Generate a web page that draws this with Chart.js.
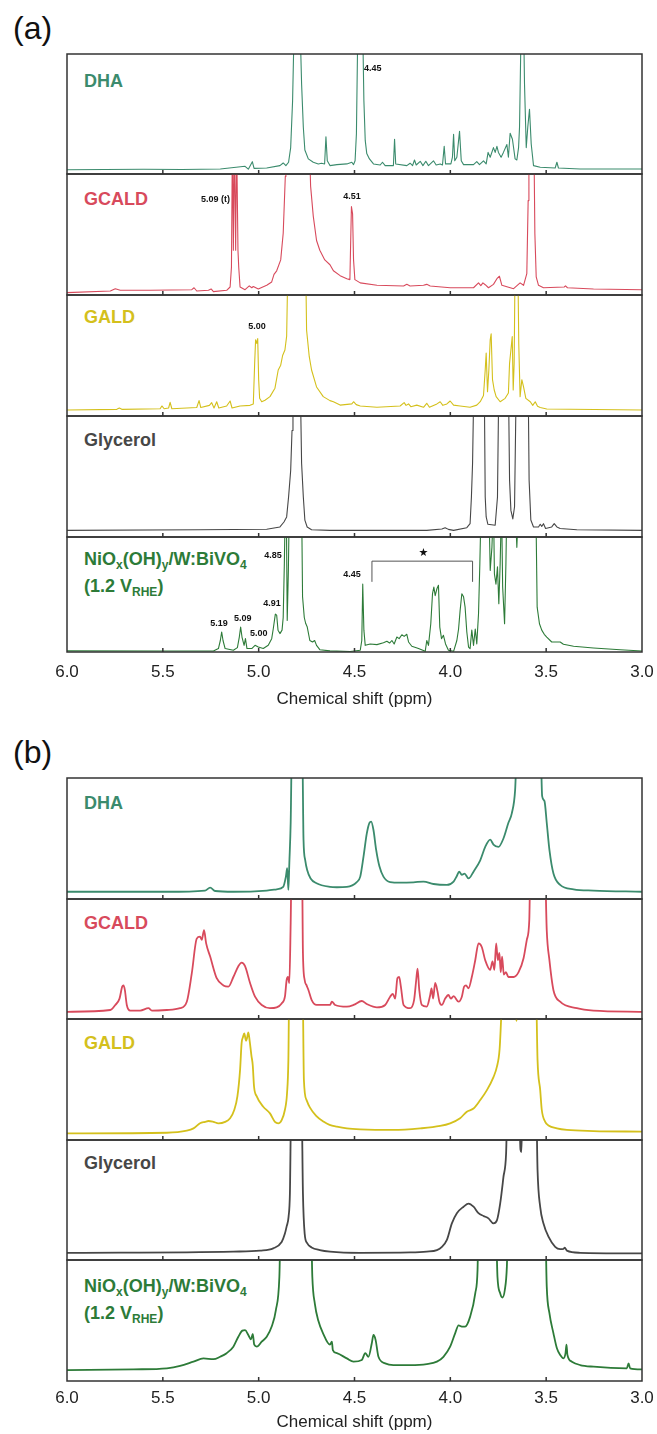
<!DOCTYPE html>
<html>
<head>
<meta charset="utf-8">
<title>1H NMR spectra</title>
<script src="https://cdn.jsdelivr.net/npm/chart.js@4.4.0/dist/chart.umd.min.js"></script>
<style>
  body { margin: 0; background: #fff; }
  #page { position: relative; width: 657px; height: 1434px; font-family: Arial, "Liberation Sans", Helvetica, sans-serif; }
  #page canvas { position: absolute; left: 0; }
  .tag { position: absolute; left: 13px; font-size: 32px; line-height: 32px; color: #111; }
  .name { position: absolute; left: 84px; font-size: 18px; font-weight: bold; line-height: 27px; white-space: nowrap; }
  .name sub { font-size: 12px; line-height: 0; vertical-align: -4px; }
</style>
</head>
<body>
<div id="page">
  <div class="tag" style="top:12px">(a)</div>
  <div class="tag" style="top:736px">(b)</div>

  <div class="name" style="top:68px;color:#3b8b6d">DHA</div>
  <div class="name" style="top:186px;color:#d84a5c">GCALD</div>
  <div class="name" style="top:304px;color:#d4c01c">GALD</div>
  <div class="name" style="top:427px;color:#474747">Glycerol</div>
  <div class="name" style="top:546px;color:#2d7b38">NiO<sub>x</sub>(OH)<sub>y</sub>/W:BiVO<sub>4</sub><br>(1.2 V<sub>RHE</sub>)</div>

  <div class="name" style="top:790px;color:#3b8b6d">DHA</div>
  <div class="name" style="top:910px;color:#d84a5c">GCALD</div>
  <div class="name" style="top:1030px;color:#d4c01c">GALD</div>
  <div class="name" style="top:1150px;color:#474747">Glycerol</div>
  <div class="name" style="top:1273px;color:#2d7b38">NiO<sub>x</sub>(OH)<sub>y</sub>/W:BiVO<sub>4</sub><br>(1.2 V<sub>RHE</sub>)</div>
</div>

<script>
// chemical shift axis (ppm), drawn high -> low
const ppmTicks = [3.0, 3.5, 4.0, 4.5, 5.0, 5.5, 6.0];
const innerTicks = [3.5, 4.0, 4.5, 5.0, 5.5];

// spectra: [ppm, intensity in % of strip height]; >100 runs off the top of the strip
// (a) narrow sweep
const dhaA = [[6.00,3.6],[5.60,4.0],[5.40,3.8],[5.20,4.2],[5.071,6.4],[5.054,4],[5.033,10.3],[5.024,4.7],[4.958,5],[4.889,7],[4.872,9.2],[4.858,7],[4.844,9.8],[4.833,22],[4.823,61],[4.814,130],[4.785,130],[4.776,75],[4.767,39],[4.759,20],[4.741,12.6],[4.715,9.8],[4.689,8.4],[4.672,9],[4.656,8.4],[4.649,31],[4.642,11],[4.628,7],[4.592,7.8],[4.54,8.4],[4.514,9.8],[4.505,7.8],[4.497,11],[4.49,33.5],[4.482,130],[4.458,130],[4.451,61],[4.444,28],[4.436,17],[4.422,12.6],[4.401,8.4],[4.366,7.5],[4.354,9.8],[4.34,7],[4.297,7],[4.291,29],[4.285,8.4],[4.227,7],[4.21,9],[4.197,7],[4.187,11.7],[4.178,7.5],[4.157,10.6],[4.143,7],[4.128,10.6],[4.114,7],[4.088,11],[4.074,7.5],[4.053,8.4],[4.041,7.5],[4.032,23],[4.025,8.4],[3.997,8.4],[3.989,14],[3.983,33],[3.977,11],[3.966,14],[3.952,35.5],[3.943,11],[3.931,7.8],[3.879,7.8],[3.862,10.3],[3.848,7.8],[3.827,11],[3.813,8.4],[3.803,18],[3.792,14],[3.775,22],[3.766,18],[3.757,23],[3.749,18],[3.735,14],[3.723,18],[3.705,24.6],[3.697,14],[3.688,34],[3.676,29],[3.662,12.6],[3.653,11.7],[3.644,22],[3.639,39],[3.630,130],[3.618,130],[3.613,75],[3.604,22],[3.596,39],[3.587,54],[3.578,25],[3.566,7],[3.531,5.6],[3.453,5],[3.444,9.8],[3.436,5],[3.323,4.2],[3.00,4.2]];
const gcaldA = [[6.00,2],[5.774,3.3],[5.748,5.2],[5.722,3.9],[5.566,3.9],[5.349,4.4],[5.337,6],[5.323,3.3],[5.262,3.9],[5.248,5],[5.236,2.8],[5.167,3.9],[5.149,6.6],[5.142,23],[5.137,130],[5.132,37],[5.127,130],[5.12,37],[5.115,130],[5.108,37],[5.104,23],[5.097,6.6],[5.071,4.4],[5.049,7.5],[5.036,6],[5.028,7],[5.002,5],[4.958,8],[4.932,10.8],[4.92,17],[4.906,20],[4.885,29],[4.872,51],[4.861,98],[4.858,130],[4.736,130],[4.729,90],[4.715,65],[4.698,45],[4.681,37],[4.655,29],[4.628,25],[4.61,20],[4.575,16],[4.54,13.5],[4.524,12.7],[4.519,51],[4.516,73],[4.51,67],[4.505,29],[4.498,12.7],[4.47,10],[4.383,8],[4.244,7.5],[4.227,8.8],[4.21,7.5],[4.14,8],[4.123,8.8],[4.105,7.5],[4.001,6],[3.879,6],[3.853,10],[3.841,7.7],[3.83,10],[3.818,8.5],[3.801,6],[3.775,8.8],[3.757,13.5],[3.744,15.5],[3.731,8],[3.67,5.2],[3.636,10],[3.618,8],[3.601,17.7],[3.594,78],[3.59,130],[3.564,130],[3.559,51],[3.552,15],[3.54,8],[3.514,6],[3.406,6.6],[3.399,7.5],[3.389,6],[3.253,5],[3.00,4.4]];
const galdA = [[6.00,5],[5.74,5.5],[5.727,6.6],[5.714,5.5],[5.514,6],[5.505,8.3],[5.493,6],[5.47,6.6],[5.462,11.3],[5.453,6],[5.323,7],[5.311,12.7],[5.302,7],[5.257,8.8],[5.245,11],[5.233,6.6],[5.219,11.8],[5.208,6.6],[5.167,8.3],[5.149,12.4],[5.139,6.6],[5.097,8.3],[5.045,8.8],[5.028,10],[5.021,43],[5.016,63],[5.01,60],[5.005,64],[5.0,30],[4.995,14.6],[4.984,11.8],[4.967,13],[4.941,16],[4.915,23],[4.898,38],[4.885,42],[4.875,50],[4.863,54.5],[4.854,66],[4.847,130],[4.755,130],[4.75,71],[4.736,49],[4.724,38],[4.698,24],[4.663,16],[4.628,12.7],[4.61,11.8],[4.575,9],[4.514,10],[4.505,11.8],[4.491,9.4],[4.47,8.3],[4.383,7.2],[4.262,8.3],[4.241,11],[4.231,8.8],[4.218,10],[4.206,7.7],[4.175,9],[4.14,7.2],[4.123,10.5],[4.109,7.2],[4.07,10],[4.053,11.8],[4.039,8.8],[4.018,10],[4.001,12.4],[3.983,9],[3.949,8.3],[3.897,7.2],[3.862,9],[3.844,11.8],[3.827,17],[3.818,38],[3.813,52],[3.806,20],[3.799,38],[3.792,63],[3.787,68],[3.78,30],[3.771,21.5],[3.761,16],[3.74,11.8],[3.714,14.6],[3.697,19],[3.691,43.5],[3.684,54.5],[3.677,65.6],[3.672,21.5],[3.667,43.5],[3.662,130],[3.648,130],[3.643,60],[3.636,16],[3.627,30],[3.618,24],[3.606,14.6],[3.583,11.8],[3.57,8.8],[3.557,11.8],[3.545,8],[3.531,7],[3.497,5.8],[3.00,5]];
const glyA = [[6.00,5.5],[5.306,6],[4.958,6.4],[4.889,8.3],[4.868,12.4],[4.854,16.6],[4.844,33],[4.833,55],[4.826,88],[4.821,130],[4.783,130],[4.776,61],[4.767,33],[4.759,14],[4.747,8.3],[4.724,6],[4.628,5.5],[4.123,5.5],[4.044,6.6],[4.027,7.7],[4.01,6.3],[3.983,5.5],[3.914,7.7],[3.897,11],[3.89,33],[3.884,61],[3.877,130],[3.823,130],[3.818,33],[3.813,16.6],[3.804,10.5],[3.766,9.7],[3.754,33],[3.747,130],[3.697,130],[3.691,47],[3.684,22],[3.674,15],[3.665,25],[3.656,130],[3.594,130],[3.589,47],[3.58,14],[3.566,8.3],[3.54,8.3],[3.531,10.5],[3.523,8.8],[3.514,11],[3.503,7],[3.471,8.3],[3.458,11],[3.444,8.3],[3.427,7],[3.34,6],[3.00,5.5]];
const niA = [[6.00,1],[5.479,0.9],[5.236,0.9],[5.21,3],[5.2,10],[5.193,17.4],[5.186,10],[5.175,3],[5.132,1.5],[5.111,3.8],[5.101,13],[5.094,21.7],[5.087,13],[5.076,5.8],[5.069,11.6],[5.061,3],[5.036,3],[5.019,5.8],[5.002,4.3],[4.976,3],[4.95,5.8],[4.932,11.6],[4.924,20],[4.913,33],[4.906,32],[4.899,19],[4.889,16],[4.878,19],[4.872,30],[4.866,77],[4.861,130],[4.856,130],[4.851,27.5],[4.845,71],[4.84,130],[4.776,130],[4.771,48],[4.762,30],[4.755,25],[4.747,22],[4.733,10],[4.719,8.7],[4.708,10],[4.698,5.8],[4.681,2],[4.628,1],[4.523,0.5],[4.47,1.5],[4.462,10],[4.457,59],[4.451,19],[4.444,5.8],[4.418,7],[4.383,6.4],[4.349,8],[4.331,9.3],[4.317,7.8],[4.305,10],[4.293,7],[4.279,13],[4.267,11.6],[4.253,15],[4.241,13.6],[4.227,15.4],[4.218,8.7],[4.201,5],[4.166,3],[4.131,0.6],[4.123,10],[4.114,5.8],[4.102,24.6],[4.093,50.7],[4.086,56.5],[4.079,49],[4.07,55],[4.062,58],[4.055,21.7],[4.046,11.6],[4.036,14.5],[4.025,7],[4.01,1.5],[3.983,0.6],[3.966,10],[3.957,20],[3.949,36],[3.94,50.7],[3.931,48],[3.923,39],[3.914,17.4],[3.905,4.3],[3.897,2.9],[3.888,19],[3.879,5.8],[3.87,20],[3.862,7],[3.853,33],[3.846,77],[3.839,130],[3.799,130],[3.792,71],[3.783,91],[3.775,130],[3.77,68],[3.762,59],[3.754,74],[3.747,42],[3.74,77],[3.733,130],[3.727,56.5],[3.717,24.6],[3.71,77],[3.705,130],[3.662,130],[3.653,91],[3.644,130],[3.554,130],[3.547,39],[3.535,24.6],[3.523,19],[3.51,15.4],[3.497,13],[3.471,8.7],[3.427,8.7],[3.41,6.7],[3.357,5],[3.253,3.5],[3.114,2],[3.00,0.9]];

// (b) broadened spectra
const dhaB = [[6.00,6],[5.479,6],[5.28,7],[5.253,9.4],[5.227,6.6],[5.132,6],[4.958,7],[4.906,8],[4.872,10],[4.858,18.5],[4.851,25.4],[4.845,7.5],[4.84,29.6],[4.833,63],[4.826,130],[4.773,130],[4.766,49],[4.757,32],[4.747,24],[4.729,17],[4.698,13],[4.628,10],[4.592,9.7],[4.54,10],[4.488,14],[4.47,18.5],[4.453,35],[4.436,54],[4.422,63],[4.413,64],[4.401,57],[4.387,40.6],[4.37,27],[4.349,18.5],[4.314,14],[4.262,13.5],[4.192,13.8],[4.14,14.4],[4.088,12.4],[4.018,11.6],[3.983,14.4],[3.966,19],[3.954,22.6],[3.94,20],[3.926,21],[3.905,17],[3.879,22.6],[3.844,32],[3.818,43],[3.792,49],[3.775,45],[3.749,43],[3.723,50],[3.697,63],[3.679,71],[3.662,90],[3.651,130],[3.53,130],[3.521,85],[3.509,81],[3.497,63],[3.483,40.6],[3.462,21],[3.427,11.6],[3.357,8],[3.253,7],[3.00,6]];
const gcaldB = [[6.00,6],[5.774,7.5],[5.748,11.7],[5.726,17],[5.712,27],[5.705,28],[5.698,24],[5.688,11.7],[5.67,7],[5.618,7],[5.575,9],[5.557,7],[5.479,7.5],[5.41,9],[5.375,14.4],[5.349,38],[5.323,67],[5.306,68.6],[5.297,66],[5.285,74],[5.274,63],[5.253,52],[5.219,34],[5.184,28],[5.158,27],[5.132,35],[5.106,44],[5.089,47],[5.071,44],[5.045,30],[5.019,18.6],[4.984,11.7],[4.941,9],[4.906,9.7],[4.88,13],[4.863,18.6],[4.854,32.5],[4.847,35],[4.84,30],[4.833,80],[4.828,130],[4.774,130],[4.769,55],[4.76,32.5],[4.75,28],[4.74,24],[4.724,16],[4.698,11.7],[4.628,11.7],[4.618,14.4],[4.601,11.7],[4.54,10.3],[4.505,11.7],[4.462,15],[4.436,12.5],[4.383,9.7],[4.34,11.7],[4.314,18.6],[4.3,21],[4.288,17],[4.276,34],[4.267,35],[4.258,27],[4.244,11.7],[4.21,9],[4.189,16],[4.178,32.5],[4.171,42],[4.162,24],[4.149,11.7],[4.123,10.3],[4.105,20],[4.098,25.6],[4.09,17],[4.079,30],[4.067,23],[4.057,14.4],[4.044,11.7],[4.027,17],[4.01,20],[3.997,17],[3.983,19],[3.957,14.4],[3.94,18.6],[3.928,27],[3.918,28],[3.905,25.6],[3.888,35],[3.87,49],[3.853,63],[3.836,60],[3.818,49],[3.792,41],[3.78,48],[3.77,41],[3.761,63],[3.752,49],[3.744,55],[3.737,39],[3.73,52],[3.721,37],[3.71,39],[3.697,35],[3.67,35],[3.644,39],[3.618,50.6],[3.601,66],[3.588,82.5],[3.582,130],[3.507,130],[3.497,74],[3.483,49],[3.462,24],[3.427,14.4],[3.34,9],[3.253,7],[3.00,6]];
const galdB = [[6.00,5.5],[5.479,6],[5.375,7.7],[5.34,9.6],[5.306,13.8],[5.28,15],[5.262,15.7],[5.236,15],[5.21,13.8],[5.175,15],[5.149,18],[5.127,25],[5.111,36],[5.097,58],[5.089,80],[5.082,85],[5.075,88],[5.066,82],[5.061,84],[5.054,89],[5.047,82],[5.038,70],[5.031,62],[5.024,44],[5.01,36],[4.976,27.5],[4.941,22],[4.915,15],[4.898,13.8],[4.88,16.5],[4.863,25],[4.852,38.6],[4.845,66],[4.84,130],[4.771,130],[4.764,49.6],[4.75,33],[4.733,27],[4.70,20],[4.66,15],[4.63,12.5],[4.592,11],[4.54,9.6],[4.47,8.8],[4.297,8.3],[4.157,9.6],[4.053,11.6],[4.001,13.8],[3.949,18],[3.914,23.4],[3.879,26],[3.844,33],[3.81,41],[3.775,52],[3.757,60.6],[3.743,75],[3.735,100],[3.728,130],[3.66,130],[3.655,98],[3.65,130],[3.554,130],[3.545,66],[3.531,41],[3.523,25],[3.505,15],[3.488,12],[3.444,9.6],[3.392,8.3],[3.253,7.4],[3.00,6.9]];
const glyB = [[6.00,6],[5.132,7],[4.993,7.8],[4.924,9.7],[4.88,15],[4.863,22],[4.854,28],[4.844,36],[4.837,55.5],[4.83,130],[4.776,130],[4.769,55.5],[4.76,22],[4.747,14],[4.724,10.5],[4.681,8.3],[4.628,7],[4.47,6],[4.21,6.3],[4.123,7],[4.07,8.3],[4.044,11],[4.018,16.7],[3.992,30.5],[3.966,39],[3.931,44.4],[3.905,47],[3.879,44.4],[3.853,39],[3.827,36.7],[3.801,34.7],[3.775,30.5],[3.757,33],[3.74,47],[3.723,69],[3.709,89],[3.702,130],[3.642,130],[3.634,92],[3.629,90],[3.624,130],[3.552,130],[3.545,75],[3.531,44],[3.514,30.5],[3.488,19.4],[3.453,11],[3.427,9],[3.41,9.2],[3.403,10.3],[3.392,7.8],[3.323,6],[3.00,5.5]];
const niB = [[6.00,9],[5.653,9.6],[5.479,10.5],[5.41,12.4],[5.34,16],[5.288,18.7],[5.236,18],[5.201,20],[5.167,23],[5.132,28.4],[5.106,36.6],[5.085,41.6],[5.071,42],[5.054,38],[5.04,34.4],[5.031,39],[5.023,30],[5.01,28.4],[4.984,32.5],[4.958,36.6],[4.932,45],[4.91,58.7],[4.892,86],[4.885,130],[4.727,130],[4.72,86],[4.707,64],[4.689,50],[4.663,39],[4.628,30],[4.618,32.5],[4.613,25.6],[4.592,23],[4.54,18.7],[4.505,16],[4.462,17.4],[4.444,23],[4.427,20],[4.41,31],[4.401,38],[4.39,34],[4.375,20],[4.34,14.6],[4.297,13.2],[4.21,13.2],[4.123,14],[4.07,16],[4.036,20],[4.001,28.4],[3.975,39.4],[3.957,46],[3.94,45],[3.923,45],[3.897,53],[3.87,72.5],[3.858,92],[3.853,130],[3.763,130],[3.754,86],[3.74,72.5],[3.728,69],[3.716,75],[3.705,94.5],[3.699,130],[3.505,130],[3.497,78],[3.483,56],[3.462,39.4],[3.444,27],[3.427,21.5],[3.41,18.7],[3.399,23],[3.394,30],[3.389,21.5],[3.366,16],[3.323,13.2],[3.253,11.8],[3.079,10.5],[3.07,14.6],[3.062,10.5],[3.00,9.6]];

// peak labels: [ppm, height %, text, align]
const notesDhaA = [[4.45, 87.5, '4.45', 'left']];
const notesGcaldA = [[5.15, 78.5, '5.09 (t)', 'right'], [4.513, 81, '4.51', 'center']];
const notesGaldA = [[5.009, 74, '5.00', 'center']];
const notesNiA = [[4.925, 84, '4.85', 'center'], [4.93, 42, '4.91', 'center'], [5.207, 25, '5.19', 'center'],
                  [5.083, 29, '5.09', 'center'], [5.0, 16, '5.00', 'center'], [4.513, 67, '4.45', 'center'],
                  [4.14, 86, '\u2605', 'center']];
// bracket over the 4.4-3.9 ppm region: [from, to, top %, leg end %]
const bracketNiA = [4.409, 3.884, 79, 61];

const colors = { dha: '#3b8b6d', gcald: '#d84a5c', gald: '#d4c01c', gly: '#474747', ni: '#2d7b38' };
const fontFamily = 'Arial, "Liberation Sans", Helvetica, sans-serif';

const framePlugin = {
  id: 'frame',
  afterDraw(chart) {
    const { ctx, chartArea: a, scales: { x } } = chart;
    ctx.save();
    ctx.strokeStyle = '#333';
    ctx.lineWidth = 1.5;
    ctx.strokeRect(a.left, a.top, a.right - a.left, a.bottom - a.top);
    ctx.beginPath();
    innerTicks.forEach(v => {
      const px = x.getPixelForValue(v);
      ctx.moveTo(px, a.bottom);
      ctx.lineTo(px, a.bottom - 4);
    });
    ctx.stroke();
    ctx.restore();
  }
};

function notesPlugin(notes, bracket) {
  return {
    id: 'notes',
    afterDatasetsDraw(chart) {
      const { ctx, scales: { x, y } } = chart;
      ctx.save();
      ctx.fillStyle = '#111';
      ctx.textBaseline = 'middle';
      notes.forEach(n => {
        ctx.font = n[2] === '\u2605' ? '11px "DejaVu Sans", sans-serif' : 'bold 9px ' + fontFamily;
        ctx.textAlign = n[3];
        ctx.fillText(n[2], x.getPixelForValue(n[0]), y.getPixelForValue(n[1]));
      });
      if (bracket) {
        const x1 = x.getPixelForValue(bracket[0]), x2 = x.getPixelForValue(bracket[1]);
        const yt = y.getPixelForValue(bracket[2]), yl = y.getPixelForValue(bracket[3]);
        ctx.strokeStyle = '#555';
        ctx.lineWidth = 1;
        ctx.beginPath();
        ctx.moveTo(x1, yl); ctx.lineTo(x1, yt); ctx.lineTo(x2, yt); ctx.lineTo(x2, yl);
        ctx.stroke();
      }
      ctx.restore();
    }
  };
}

// one strip = one chart; top/bottom are page pixels of the framed box
function strip(top, bottom, rows, color, lineWidth, smooth, notes, bracket, axis) {
  const cv = document.createElement('canvas');
  const h = axis ? bottom - top + 1 + axis.h : bottom - top + 2;
  cv.width = 657;
  cv.height = h;
  cv.style.top = (top - 1) + 'px';
  document.getElementById('page').appendChild(cv);

  return new Chart(cv, {
    type: 'line',
    data: {
      datasets: [{
        data: rows,
        borderColor: color,
        borderWidth: lineWidth,
        borderJoinStyle: 'round',
        pointRadius: 0,
        tension: 0,
        cubicInterpolationMode: smooth ? 'monotone' : 'default',
        fill: false
      }]
    },
    options: {
      responsive: false,
      animation: false,
      devicePixelRatio: 1,
      layout: { padding: { left: 67, right: 15, top: 1, bottom: axis ? 0 : 1 } },
      scales: {
        x: {
          type: 'linear',
          reverse: true,
          min: ppmTicks[0],
          max: ppmTicks[ppmTicks.length - 1],
          display: !!axis,
          grid: { display: false, drawTicks: false },
          border: { display: false },
          afterBuildTicks: s => { s.ticks = ppmTicks.map(v => ({ value: v })); },
          ticks: {
            padding: axis ? axis.pad : 0,
            color: '#222',
            font: { size: 17, family: fontFamily },
            maxRotation: 0,
            autoSkip: false,
            callback: v => v.toFixed(1)
          },
          title: {
            display: !!axis,
            text: 'Chemical shift (ppm)',
            color: '#222',
            font: { size: 17, family: fontFamily },
            padding: 0
          },
          afterFit: s => { if (axis) s.height = axis.h; }
        },
        y: { display: false, min: 0, max: 100 }
      },
      plugins: { legend: { display: false }, tooltip: { enabled: false } }
    },
    plugins: [framePlugin, notesPlugin(notes || [], bracket)]
  });
}

// (a)
strip(54, 174, dhaA, colors.dha, 1.1, false, notesDhaA);
strip(174, 295, gcaldA, colors.gcald, 1.1, false, notesGcaldA);
strip(295, 416, galdA, colors.gald, 1.1, false, notesGaldA);
strip(416, 537, glyA, colors.gly, 1.1, false);
strip(537, 652, niA, colors.ni, 1.1, false, notesNiA, bracketNiA, { h: 58, pad: 10 });

// (b)
strip(778, 899, dhaB, colors.dha, 1.8, true);
strip(899, 1019, gcaldB, colors.gcald, 1.8, true);
strip(1019, 1140, galdB, colors.gald, 1.8, true);
strip(1140, 1260, glyB, colors.gly, 1.8, true);
strip(1260, 1381, niB, colors.ni, 1.8, true, null, null, { h: 52, pad: 7 });
</script>
</body>
</html>
